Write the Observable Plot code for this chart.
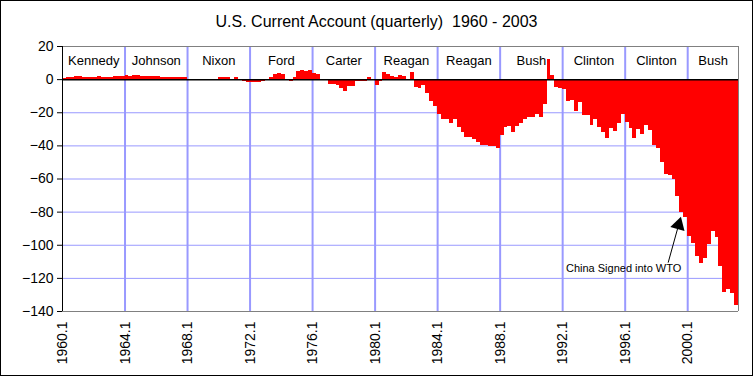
<!DOCTYPE html>
<html><head><meta charset="utf-8">
<script src="https://cdn.jsdelivr.net/npm/d3@7"></script>
<script src="https://cdn.jsdelivr.net/npm/@observablehq/plot@0.6"></script>
<style>
body{margin:0;background:#fff;}
#wrap{position:relative;width:753px;height:376px;background:#fff;font-family:"Liberation Sans",Arial,sans-serif;overflow:hidden;}
#title{height:30px;padding-top:6px;line-height:32px;text-align:center;font-size:16px;color:#000;white-space:pre;}
#border{position:absolute;left:0;top:0;width:753px;height:376px;box-sizing:border-box;border:1px solid #000;pointer-events:none;}
#chart svg{display:block;}
</style></head><body>
<div id="wrap"><div id="title">U.S. Current Account (quarterly)  1960 - 2003</div><div id="chart"></div><div id="border"></div></div>
<script>
const startYear = 1960;
// quarterly current account, billions of dollars, 1960 Q1 .. 2003 Q1
const values = [
  0.6, 1.2, 1.2, 2.0,      // 1960
  2.0, 1.2, 1.2, 1.2,      // 1961
  1.2, 2.0, 1.2, 1.2,      // 1962
  1.2, 2.0, 2.0, 2.0,      // 1963
  2.6, 2.0, 2.6, 2.6,      // 1964
  2.0, 2.0, 2.0, 2.0,      // 1965
  2.0, 1.2, 1.2, 1.2,      // 1966
  1.2, 1.2, 1.2, 1.2,      // 1967
  0.2, 0.1, 0.3, 0.1,      // 1968
  0.0, 0.1, 0.2, 0.3,      // 1969
  1.2, 1.2, 1.2, 0.2,      // 1970
  1.2, -0.8, -1.4, -1.8,   // 1971
  -1.5, -2.0, -1.8, -1.2,  // 1972
  0.2, 1.2, 2.8, 3.8,      // 1973
  2.8, 0.1, -1.2, 1.0,     // 1974
  5.2, 5.8, 5.2, 5.8,      // 1975
  3.4, 2.8, 0.3, -0.3,     // 1976
  -3.0, -3.2, -3.4, -5.4,  // 1977
  -7.4, -4.2, -4.2, -1.0,  // 1978
  -1.0, -1.0, 1.4, 0.2,    // 1979
  -3.8, -1.2, 4.4, 3.2,    // 1980
  1.8, 1.2, 2.6, 1.8,      // 1981
  -0.6, 4.2, -4.6, -5.2,   // 1982
  -3.5, -8.2, -13.3, -16.1, // 1983
  -21.1, -24.2, -24.2, -26.7, // 1984
  -24.2, -29.2, -31.7, -35.2, // 1985
  -35.2, -36.1, -37.7, -39.8, // 1986
  -39.8, -40.4, -40.5, -41.4, // 1987
  -33.6, -29.2, -28.4, -31.7, // 1988
  -28.4, -26.6, -24.0, -23.0, // 1989
  -23.0, -20.8, -23.0, -15.2, // 1990
  12.0, 2.6, -5.0, -5.6,      // 1991
  -5.8, -13.1, -12.7, -19.1,  // 1992
  -14.1, -21.7, -21.7, -27.8, // 1993
  -24.3, -29.2, -31.8, -35.4, // 1994
  -29.8, -31.4, -26.2, -21.1, // 1995
  -25.8, -29.8, -35.8, -30.4, // 1996
  -33.4, -27.4, -30.8, -39.6, // 1997
  -41.6, -49.9, -57.3, -57.9, // 1998
  -60.4, -70.6, -80.0, -83.0, // 1999
  -94.6, -98.8, -107.0, -111.0, // 2000
  -108.0, -99.6, -91.8, -95.2,  // 2001
  -113.0, -128.4, -126.8, -129.4, // 2002
  -136.4                          // 2003
];
const xTickYears = [1960, 1964, 1968, 1972, 1976, 1980, 1984, 1988, 1992, 1996, 2000];
const xTickLabels = ["1960.1", "1964.1", "1968.1", "1972.1", "1976.1", "1980.1", "1984.1", "1988.1", "1992.1", "1996.1", "2000.1"];
const yTicks = [20, 0, -20, -40, -60, -80, -100, -120, -140];
const presidents = ["Kennedy", "Johnson", "Nixon", "Ford", "Carter", "Reagan", "Reagan", "Bush", "Clinton", "Clinton", "Bush"];
const termStarts = [1960, 1964, 1968, 1972, 1976, 1980, 1984, 1988, 1992, 1996, 2000];
const presidentLabelY = 11.5;
const annotation = [{text: "China Signed into WTO", x: 1995.9, y: -114, fromX: 1998.75, fromY: -110.5, toX: 1999.5, toY: -85, angle: 16}];

const endT = startYear + values.length / 4;
const data = values.map((v, i) => ({t: startYear + i / 4, t2: startYear + (i + 1) / 4, v}));
const presData = presidents.map((name, k) => ({name, x: (termStarts[k] + (k + 1 < termStarts.length ? termStarts[k + 1] : endT)) / 2}));

const chart = Plot.plot({
  width: 753,
  height: 340,
  marginLeft: 62,
  marginRight: 15,
  marginTop: 10,
  marginBottom: 65,
  style: {fontFamily: "'Liberation Sans', Arial, sans-serif", fontSize: "14px", background: "#fff", color: "#000", overflow: "visible"},
  x: {domain: [startYear, endT], ticks: xTickYears, tickFormat: d => xTickLabels[xTickYears.indexOf(d)], tickRotate: -90, tickSize: 0, tickPadding: 10, label: null},
  y: {domain: [-140, 20], ticks: yTicks, tickSize: 5, tickPadding: 4, label: null},
  marks: [
    Plot.ruleX(xTickYears.slice(1), {stroke: "#9999FF", strokeWidth: 2}),
    Plot.ruleY(yTicks.filter(d => d < 0 && d > -140), {stroke: "#9999FF", strokeWidth: 1}),
    Plot.rect(data, {x1: "t", x2: "t2", y1: 0, y2: "v", fill: "#FF0000", shapeRendering: "crispEdges"}),
    Plot.ruleY([0], {stroke: "#000", strokeWidth: 1.5}),
    Plot.ruleY([20], {stroke: "#808080"}),
    Plot.ruleY([-140], {stroke: "#808080"}),
    Plot.ruleX([endT], {stroke: "#808080"}),
    Plot.ruleX([startYear], {stroke: "#000"}),
    Plot.text(presData, {x: "x", y: presidentLabelY, text: "name", fontSize: 13, fill: "#000"}),
    Plot.link(annotation, {x1: "fromX", y1: "fromY", x2: "toX", y2: "toY", stroke: "#000", strokeWidth: 1}),
    Plot.dot(annotation, {x: "toX", y: "toY", symbol: "triangle", r: 5.5, fill: "#000", stroke: null, rotate: "angle", dx: -1.3, dy: 4.5}),
    Plot.text(annotation, {x: "x", y: "y", text: "text", fontSize: 11, fill: "#000"})
  ]
});
document.getElementById("chart").appendChild(chart);
</script>
</body></html>
